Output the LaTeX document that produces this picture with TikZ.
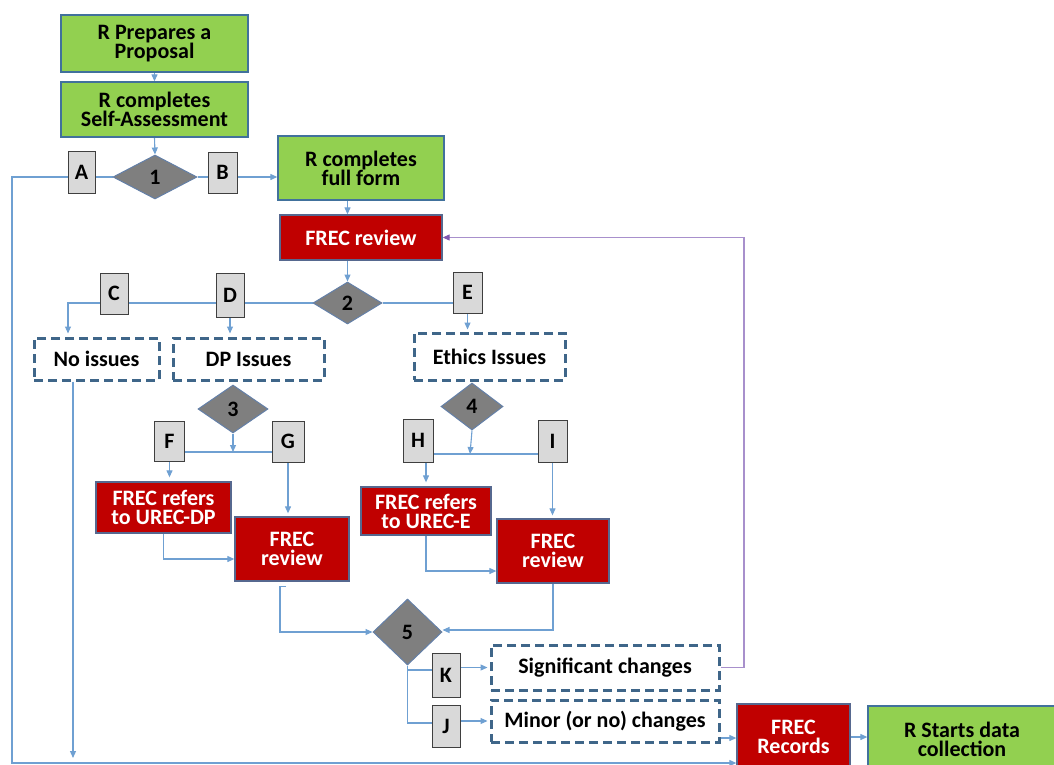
\documentclass[tikz,border=0pt]{standalone}
\usepackage{fontspec}
\setmainfont{Carlito}
\usetikzlibrary{shapes.geometric,arrows.meta,backgrounds}
\definecolor{grn}{HTML}{92D050}
\definecolor{rd}{HTML}{C00000}
\definecolor{bordb}{HTML}{41719C}
\definecolor{dashb}{HTML}{3F6689}
\definecolor{rdb}{HTML}{56688F}
\definecolor{conn}{HTML}{6FA0D2}
\definecolor{purp}{HTML}{A890CC}
\definecolor{purpd}{HTML}{7E57B0}
\definecolor{lgr}{HTML}{D9D9D9}
\definecolor{lbd}{HTML}{3F3F3F}
\definecolor{dgr}{HTML}{7F7F7F}
\definecolor{diab}{HTML}{6480A8}
\begin{document}
\begin{tikzpicture}[x=1pt,y=-1pt,
 txt/.style={font={\fontsize{22}{19}\selectfont\bfseries}, align=center, inner sep=0pt},
 gbox/.style={txt, rectangle, draw=bordb, fill=grn, line width=1.3pt},
 rbox/.style={txt, rectangle, draw=rdb, fill=rd, text=white, line width=1.3pt},
 dbox/.style={txt, rectangle, draw=dashb, dash pattern=on 9pt off 5pt, line width=3pt, fill=white},
 lbox/.style={rectangle, font={\fontsize{22}{22}\selectfont\bfseries}, draw=lbd, fill=lgr, line width=1pt, inner sep=0pt},
 dia/.style={diamond, font={\fontsize{22}{22}\selectfont\bfseries}, draw=diab, fill=dgr, line width=1pt, inner sep=0pt},
 line/.style={draw=conn, line width=1.1pt},
 arr/.style={line, -{Triangle[length=7pt,width=6pt]}},
 parr/.style={draw=purp, line width=1.1pt, -{Triangle[length=7pt,width=6pt,color=purpd]}}]
\useasboundingbox (0,0) rectangle (1054,765);
\clip (0,0) rectangle (1054,765);

% green boxes
\node[gbox, minimum width=187pt, minimum height=57pt] (prop) at (154.5,43.5) {R Prepares a\\Proposal};
\node[gbox, minimum width=187pt, minimum height=55pt] (self) at (154.5,109.5) {R completes\\Self-Assessment};
\node[gbox, minimum width=166pt, minimum height=64pt] (full) at (361,168) {R completes\\full form};
\node[gbox, minimum width=188pt, minimum height=66pt] (rstart) at (962,739) {R Starts data\\collection};

% red boxes
\node[rbox, minimum width=162pt, minimum height=45pt] (frec1) at (361,237.5) {FREC review};
\node[rbox, minimum width=135pt, minimum height=51pt] (refdp) at (163.5,507.5) {FREC refers\\to UREC-DP};
\node[rbox, minimum width=114pt, minimum height=64pt] (revdp) at (292,549) {FREC\\review};
\node[rbox, minimum width=130pt, minimum height=48pt] (refe) at (426,511) {FREC refers\\to UREC-E};
\node[rbox, minimum width=112pt, minimum height=64pt] (reve) at (553,551) {FREC\\review};
\node[rbox, minimum width=113pt, minimum height=66pt] (frecrec) at (793.5,737) {FREC\\Records};

% dashed boxes
\node[dbox, minimum width=125pt, minimum height=42pt] (noiss) at (96.5,359) {No issues};
\node[dbox, minimum width=151pt, minimum height=42pt] (dpiss) at (248.5,359) {DP Issues};
\node[dbox, minimum width=151pt, minimum height=47pt] (ethiss) at (489.5,356.5) {Ethics Issues};
\node[dbox, minimum width=228pt, minimum height=45pt] (sig) at (605,667.5) {Significant changes};
\node[dbox, minimum width=228pt, minimum height=42pt] (minor) at (605,721) {Minor (or no) changes};

% diamonds
\node[dia, minimum width=84pt, minimum height=44pt] (d1) at (155,177) {1};
\node[dia, minimum width=69pt, minimum height=42pt] (d2) at (347.5,303) {2};
\node[dia, minimum width=70pt, minimum height=48pt] (d3) at (233,409) {3};
\node[dia, minimum width=62pt, minimum height=47pt] (d4) at (472,406.5) {4};
\node[dia, minimum width=69pt, minimum height=66pt] (d5) at (407.5,632) {5};

% letter boxes
\node[lbox, minimum width=27pt, minimum height=42pt] (A) at (81.5,172) {A};
\node[lbox, minimum width=29pt, minimum height=41pt] (B) at (222.5,172.5) {B};
\node[lbox, minimum width=28pt, minimum height=41pt] (C) at (114,293.5) {C};
\node[lbox, minimum width=28pt, minimum height=44pt] (D) at (230,295) {D};
\node[lbox, minimum width=29pt, minimum height=41pt] (E) at (467.5,292.5) {E};
\node[lbox, minimum width=30pt, minimum height=40pt] (F) at (169.5,441) {F};
\node[lbox, minimum width=32pt, minimum height=41pt] (G) at (288,441.5) {G};
\node[lbox, minimum width=30pt, minimum height=43pt] (H) at (418,440.5) {H};
\node[lbox, minimum width=29pt, minimum height=42pt] (I) at (552.5,441) {I};
\node[lbox, minimum width=28pt, minimum height=44pt] (K) at (446,675) {K};
\node[lbox, minimum width=28pt, minimum height=42pt] (J) at (446,726) {J};

% helper coordinates
\coordinate (cl) at (12,763);
\coordinate (xno) at (73,0);
\coordinate (xc) at (68,0);
\coordinate (fg) at (233,452);
\coordinate (hi) at (470,454);
\coordinate (xrv) at (280,0);
\coordinate (xp) at (744,0);

\begin{scope}[on background layer]
\draw[arr] (prop.south) -- (self.north);
\draw[arr] (self.south) -- (d1.north);
\draw[arr] (d1.west) -- (d1.west -| cl) -- (cl) -- (cl -| frecrec.west);
\draw[arr] (d1.east) -- (d1.east -| full.west);
\draw[arr] (full.south -| d2.north) -- (frec1.north -| d2.north);
\draw[arr] (frec1.south -| d2.north) -- (d2.north);
\draw[arr] (d2.west) -- (d2.west -| xc) -- ([yshift=3pt]noiss.north -| xc);
\draw[arr] (D.south) -- ([yshift=3pt]D.south |- dpiss.north);
\draw[line] (d2.east) -- (d2.east -| E.west);
\draw[arr] (E.south) -- ([yshift=2pt]E.south |- ethiss.north);
\draw[arr] (noiss.south -| xno) -- ([yshift=5pt]cl -| xno);
\draw[arr] (d3.south) -- (fg);
\draw[line] (F.east |- fg) -- (G.west |- fg);
\draw[arr] (F.south) -- ([yshift=4pt]F.south |- refdp.north);
\draw[arr] (G.south) -- ([yshift=3pt]G.south |- revdp.north);
\draw[arr] (d4.south) -- (hi);
\draw[line] (H.east |- hi) -- (I.west |- hi);
\draw[arr] (H.south -| refe.north) -- ([yshift=4pt]refe.north);
\draw[arr] (I.south) -- ([yshift=3pt]I.south |- reve.north);
\draw[arr] (refdp.south) |- ([yshift=-10pt]revdp.west);
\draw[arr] (refe.south) |- ([yshift=-20pt]reve.west);
\draw[arr] ([xshift=-6pt,yshift=-5pt]revdp.south) -- ([yshift=-5pt]revdp.south -| xrv) |- (d5.west);
\draw[arr] (reve.south) |- ([yshift=2pt]d5.east);
\draw[line] (d5.south) |- ([yshift=5pt]K.west);
\draw[line] (d5.south) |- ([yshift=3pt]J.west);
\draw[arr] (K.east |- sig.west) -- ([xshift=-2pt]sig.west);
\draw[arr] (J.east |- minor.west) -- ([xshift=-2pt]minor.west);
\draw[parr] (sig.east) -- (sig.east -| xp) |- (frec1.east);
\draw[arr] ([yshift=-17pt]minor.east) -- ([yshift=-17pt]minor.east -| frecrec.west);
\draw[arr] (frecrec.east) -- (frecrec.east -| rstart.west);
\end{scope}
\end{tikzpicture}
\end{document}
